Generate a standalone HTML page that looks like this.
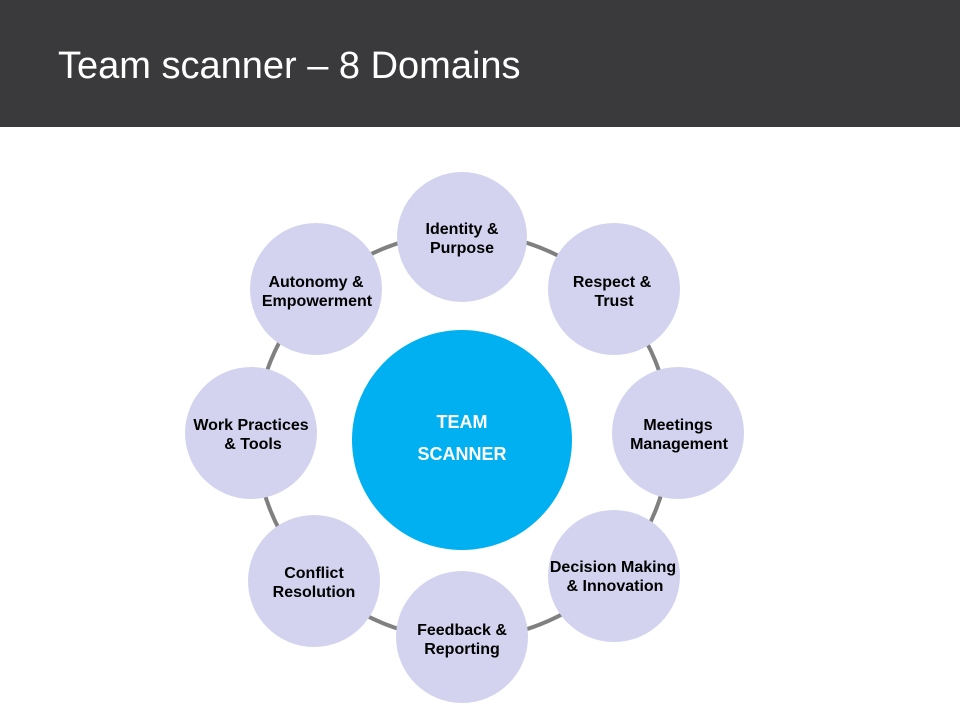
<!DOCTYPE html>
<html><head><meta charset="utf-8"><style>
body{margin:0;width:960px;height:720px;background:#fff;overflow:hidden;font-family:"Liberation Sans",Arial,sans-serif}
.hdr{position:absolute;left:0;top:0;width:960px;height:127px;background:#3a3a3c}
.hdr span{position:absolute;left:58px;top:43px;color:#fff;font-size:38px;line-height:46px}
</style></head><body>
<div class="hdr"><span>Team scanner – 8 Domains</span></div>
<svg width="960" height="720" style="position:absolute;left:0;top:0" font-family="Liberation Sans, Arial, sans-serif">
<ellipse cx="463" cy="436" rx="207" ry="203" fill="none" stroke="#808080" stroke-width="4"/>
<circle cx="462" cy="440" r="110" fill="#00b0f0"/>
<text x="462" y="428" fill="#fff" font-size="18" font-weight="bold" text-anchor="middle">TEAM</text>
<text x="462" y="460" fill="#fff" font-size="18" font-weight="bold" text-anchor="middle">SCANNER</text>
<g fill="#d3d3ef">
<circle cx="462" cy="237" r="65"/>
<circle cx="614" cy="289" r="66"/>
<circle cx="678" cy="433" r="66"/>
<circle cx="614" cy="576" r="66"/>
<circle cx="462" cy="637" r="66"/>
<circle cx="314" cy="581" r="66"/>
<circle cx="251" cy="433" r="66"/>
<circle cx="316" cy="289" r="66"/>
</g>
<g font-size="16" font-weight="bold" text-anchor="middle" fill="#000">
<text x="462" y="234">Identity &amp;</text><text x="462" y="253">Purpose</text>
<text x="612" y="287">Respect &amp;</text><text x="614" y="306">Trust</text>
<text x="678" y="430">Meetings</text><text x="679" y="449">Management</text>
<text x="613" y="572">Decision Making</text><text x="615" y="591">&amp; Innovation</text>
<text x="462" y="635">Feedback &amp;</text><text x="462" y="654">Reporting</text>
<text x="314" y="578">Conflict</text><text x="314" y="597">Resolution</text>
<text x="251" y="430">Work Practices</text><text x="253" y="449">&amp; Tools</text>
<text x="316" y="287">Autonomy &amp;</text><text x="317" y="306">Empowerment</text>
</g>
</svg>
</body></html>
